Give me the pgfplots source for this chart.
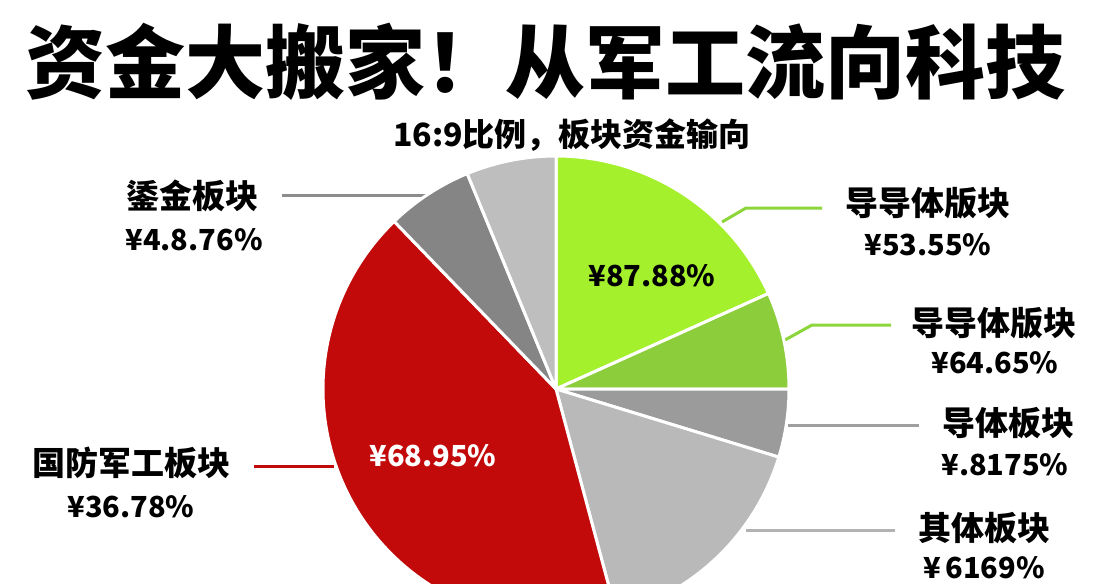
\documentclass[border=0pt]{standalone}
\usepackage{fontspec}
\setmainfont{Noto Sans CJK SC}
\newfontfamily\blackfont{Noto Sans CJK SC Black}
\usepackage{pgfplots}
\usepackage{pgfplotstable}
\pgfplotsset{compat=1.18}

\definecolor{pgreen}{HTML}{A5F02D}
\definecolor{pdkgreen}{HTML}{8CCD3C}
\definecolor{pgray}{HTML}{9B9B9B}
\definecolor{plgray}{HTML}{B9B9B9}
\definecolor{pred}{HTML}{C20A0A}
\definecolor{pdkgray}{HTML}{858585}
\definecolor{ptop}{HTML}{BEBEBE}
\definecolor{lgreen}{HTML}{8CD63C}

% slices: centre (pixels, y down), start/end angle (degrees, ccw from east), colour index
\pgfplotstableread{
x   y    sa      se      ci
556 389  90      24.2    0
556 389  24.2    0       1
556 389  0       -17     2
556 389  -17     -75     3
556 389  -75     -226    4
556 389  -226    -247.6  5
556 389  -247.6  -270    6
}\slices

\newcommand\slicecolor[1]{\ifcase#1 pgreen\or pdkgreen\or pgray\or plgray\or pred\or pdkgray\or ptop\fi}

\begin{document}
\begin{tikzpicture}
\path[use as bounding box, clip] (0,0) rectangle (1117bp,584bp);
\begin{axis}[
    at={(0,0)}, anchor=south west,
    scale only axis,
    width=1117bp, height=584bp,
    xmin=0, xmax=1117, ymin=0, ymax=584,
    y dir=reverse,
    hide axis,
    clip=false,
]
% pie wedges
\addplot[scatter, only marks, mark=*, mark size=0pt,
    visualization depends on={\thisrow{sa} \as \sa},
    visualization depends on={\thisrow{se} \as \se},
    visualization depends on={\thisrow{ci} \as \ci},
    scatter/@pre marker code/.code={%
      \pgfmathtruncatemacro\cidx{\ci}%
      \edef\slicecol{\slicecolor{\cidx}}%
      \fill[\slicecol, draw=white, line width=3bp, line join=round]
        (0,0) -- (\sa:233bp) arc[start angle=\sa, end angle=\se, radius=233bp] -- cycle;
    },
    scatter/@post marker code/.code={},
] table[x=x, y=y] {\slices};

% leader lines
\addplot[draw=gray!90, line width=3bp] coordinates {(282,195) (428,195)};
\addplot[draw=pred, line width=3bp] coordinates {(254,466) (334,466)};
\addplot[draw=lgreen, line width=3bp] coordinates {(722,222) (746,208) (822,208)};
\addplot[draw=lgreen, line width=3bp] coordinates {(785,340) (812,325) (891,325)};
\addplot[draw=gray!75, line width=3bp] coordinates {(788,425) (919,425)};
\addplot[draw=gray!60, line width=3bp] coordinates {(746,530) (895,530)};

\coordinate (in1) at (axis cs:652,276);
\coordinate (in2) at (axis cs:433,456);

% titles
\node[inner sep=0pt, font=\blackfont\fontsize{80bp}{80bp}\selectfont] at (axis cs:545,62) {资金大搬家！从军工流向科技};
\node[inner sep=0pt, font=\blackfont\fontsize{32bp}{34bp}\selectfont] at (axis cs:572,135) {16:9比例，板块资金输向};

% labels
\tikzset{lab/.style={inner sep=0pt, font=\bfseries\fontsize{33bp}{34bp}\selectfont},
         num/.style={inner sep=0pt, font=\bfseries\fontsize{29bp}{30bp}\selectfont}}
\node[lab] at (axis cs:192,196) {鋈金板块};
\node[num] at (axis cs:194,240) {¥4.8.76\%};
\node[lab] at (axis cs:131,463) {国防军工板块};
\node[num] at (axis cs:131,507) {¥36.78\%};
\node[lab] at (axis cs:928,203) {导导体版块};
\node[num] at (axis cs:928,245) {¥53.55\%};
\node[lab] at (axis cs:994,323) {导导体版块};
\node[num] at (axis cs:995,363) {¥64.65\%};
\node[lab] at (axis cs:1008,423) {导体板块};
\node[num] at (axis cs:1005,465) {¥.8175\%};
\node[lab] at (axis cs:984,528) {其体板块};
\node[num] at (axis cs:984,568) {¥\,6169\%};
\end{axis}
\node[inner sep=0pt, font=\bfseries\fontsize{29bp}{30bp}\selectfont] at (in1) {¥87.88\%};
\node[inner sep=0pt, font=\bfseries\fontsize{29bp}{30bp}\selectfont, text=white] at (in2) {¥68.95\%};
\end{tikzpicture}
\end{document}
